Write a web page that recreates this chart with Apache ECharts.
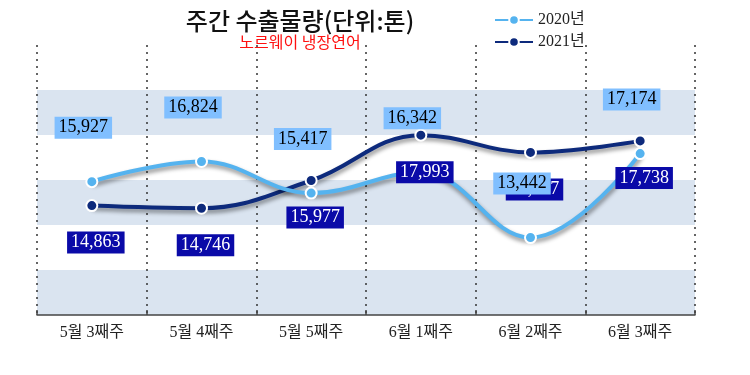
<!DOCTYPE html>
<html><head><meta charset="utf-8">
<script src="https://cdn.jsdelivr.net/npm/echarts@6/dist/echarts.min.js"></script>
<style>html,body{margin:0;padding:0;background:#fff}#c{width:750px;height:375px}</style>
</head><body><div id="c"></div>
<script>
const categories = ['5월 3째주','5월 4째주','5월 5째주','6월 1째주','6월 2째주','6월 3째주'];
const values2020 = [15927, 16824, 15417, 16342, 13442, 17174];
const values2021 = [14863, 14746, 15977, 17993, 17227, 17738];
const seriesNames = ['2020년','2021년'];
const titleText = '주간 수출물량(단위:톤)';
const subtitleText = '노르웨이 냉장연어';

const serif = "'Liberation Serif', 'Noto Sans CJK KR', serif";
const chart = echarts.init(document.getElementById('c'));
const fmt = v => v.toLocaleString('en-US');
const lightColor = '#55b3ef', darkColor = '#0d2a7c';
function lineSeries(name, data, color, z) {
  return {
    name, type: 'line', data, smooth: 0.4, z,
    symbol: 'circle', symbolSize: 11,
    lineStyle: {color, width: 4, shadowColor: 'rgba(0,0,0,0.45)', shadowBlur: 4, shadowOffsetY: 3, shadowOffsetX: 1},
    itemStyle: {color, borderColor: '#fff', borderWidth: 2},
    label: {show: false}
  };
}
function labelSeries(name, data, z, offset, fg, bg) {
  return {
    name, type: 'scatter', data, z, silent: true, symbolSize: 1,
    itemStyle: {color: 'rgba(0,0,0,0)', opacity: 1},
    label: {show: true, position: 'inside', offset, formatter: p => fmt(p.value),
      fontFamily: serif, fontSize: 18, color: fg, backgroundColor: bg, padding: [2, 4, 2, 4], opacity: 1}
  };
}
chart.setOption({
  animation: false,
  backgroundColor: '#ffffff',
  grid: {left: 37, right: 55, top: 45, bottom: 60},
  graphic: [
    {type:'text', z: 100, style:{text:titleText, x:300, y:21, align:'center', verticalAlign:'middle', font:"500 24px 'Noto Sans CJK KR'", fill:'#111'}},
    {type:'text', z: 100, style:{text:subtitleText, x:300, y:42, align:'center', verticalAlign:'middle', font:"16px 'Noto Sans CJK KR'", fill:'#ff1010'}}
  ],
  legend: {
    orient: 'vertical', left: 489, top: 7, itemWidth: 38, itemHeight: 12, itemGap: 6,
    textStyle: {fontFamily: serif, fontSize: 16, color: '#222'},
    data: seriesNames
  },
  xAxis: {
    type: 'category', data: categories, boundaryGap: true,
    axisLine: {show: true, lineStyle: {color: '#444', width: 1.5}},
    axisTick: {show: true, inside: true, length: 5, lineStyle: {color: '#444', width: 1.5}},
    axisLabel: {fontFamily: serif, fontSize: 16, color: '#222', margin: 10},
    splitLine: {show: true, lineStyle: {color: '#333', type: [2, 5], width: 1.5}}
  },
  yAxis: {
    type: 'value', min: 10000, max: 22000, interval: 2000,
    axisLabel: {show: false}, axisLine: {show: false}, axisTick: {show: false},
    splitLine: {show: false},
    splitArea: {show: true, areaStyle: {color: ['#dae4f0', '#ffffff']}}
  },
  series: [
    lineSeries(seriesNames[0], values2020, lightColor, 4),
    lineSeries(seriesNames[1], values2021, darkColor, 3),
    labelSeries('label2020', values2020, 12, [-8.5, -54], '#000', '#80bfff'),
    labelSeries('label2021', values2021, 11, [4, 37], '#fff', '#0a0aa8')
  ]
});
</script></body></html>
